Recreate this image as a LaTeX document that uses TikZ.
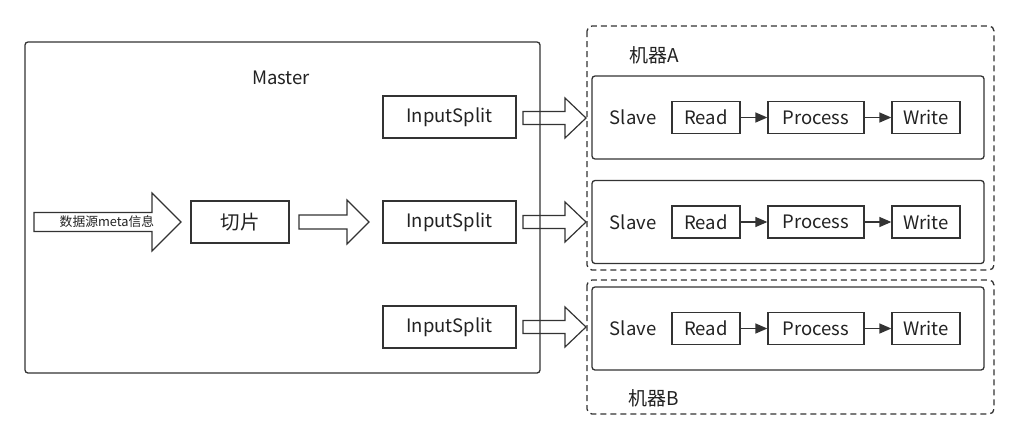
\documentclass[tikz,border=0pt]{standalone}
\usetikzlibrary{arrows.meta}
\usepackage{fontspec}
\setmainfont{Noto Sans CJK SC}
\begin{document}
\begin{tikzpicture}[x=1pt,y=-1pt,
  line width=1.3pt,
  every node/.style={text=txt},
  box/.style={draw=ln, rectangle, inner sep=0pt},
  flowarr/.style={draw=ln, -{Triangle[length=12pt,width=10pt]}, fill=none},
  hollow/.style={draw=ln, line width=1.2pt, fill=white, line join=miter},
  lbl/.style={font=\fontsize{18.5}{20}\selectfont},
]
\definecolor{ln}{HTML}{333333}
\definecolor{txt}{HTML}{222222}
\useasboundingbox (0,0) rectangle (1020,440);
\fill[white] (0,0) rectangle (1020,440);

% dashed machine boxes
\draw[ln, dashed, dash pattern=on 6pt off 4pt, rounded corners=5pt] (587,26) rectangle (994,270);
\draw[ln, dashed, dash pattern=on 6pt off 4pt, rounded corners=5pt] (587,280) rectangle (994,414);
\node[font=\fontsize{19}{21}\selectfont] (ma) at (654,55) {机器A};
\node[font=\fontsize{19}{21}\selectfont] (mb) at (654,398) {机器B};

% hollow arrows
\draw[hollow] (34,212.5) -- (152,212.5) -- (152,193) -- (181,222) -- (152,251) -- (152,231.5) -- (34,231.5) -- cycle;
\node[font=\fontsize{12.8}{14}\selectfont] (meta) at (107,222) {数据源meta信息};
\draw[hollow] (299,215) -- (347,215) -- (347,200) -- (369,222) -- (347,244) -- (347,229) -- (299,229) -- cycle;
\foreach \yy in {118,222,327}{
  \draw[hollow] (523,\yy-6.5) -- (565,\yy-6.5) -- (565,\yy-20) -- (586,\yy) -- (565,\yy+20) -- (565,\yy+6.5) -- (523,\yy+6.5) -- cycle;
}

% master
\draw[ln, rounded corners=3pt] (25,42) rectangle (540,373);
\node[lbl] (master) at (281,78) {Master};
\node[box, minimum width=98pt, minimum height=42pt, font=\fontsize{19.5}{21}\selectfont] (cut) at (240,222) {切片};
\node[box, lbl, minimum width=133pt, minimum height=42pt] (is1) at (449.5,117) {InputSplit};
\node[box, lbl, minimum width=133pt, minimum height=42pt] (is2) at (449.5,222) {InputSplit};
\node[box, lbl, minimum width=133pt, minimum height=42pt] (is3) at (449.5,327) {InputSplit};

% slaves
\foreach \n/\yy in {a/117.5,b/222,c/328.5}{
  \draw[ln, rounded corners=3pt] (592,\yy-41.5) rectangle (984,\yy+41.5);
  \node[lbl] (slave\n) at (633,\yy) {Slave};
  \node[box, lbl, minimum width=68pt, minimum height=32pt] (read\n) at (706,\yy) {Read};
  \node[box, lbl, minimum width=96pt, minimum height=32pt] (proc\n) at (816,\yy) {Process};
  \node[box, lbl, minimum width=68pt, minimum height=32pt] (write\n) at (926,\yy) {Write};
  \draw[flowarr] (read\n) -- (proc\n);
  \draw[flowarr] (proc\n) -- (write\n);
}
\end{tikzpicture}
\end{document}
